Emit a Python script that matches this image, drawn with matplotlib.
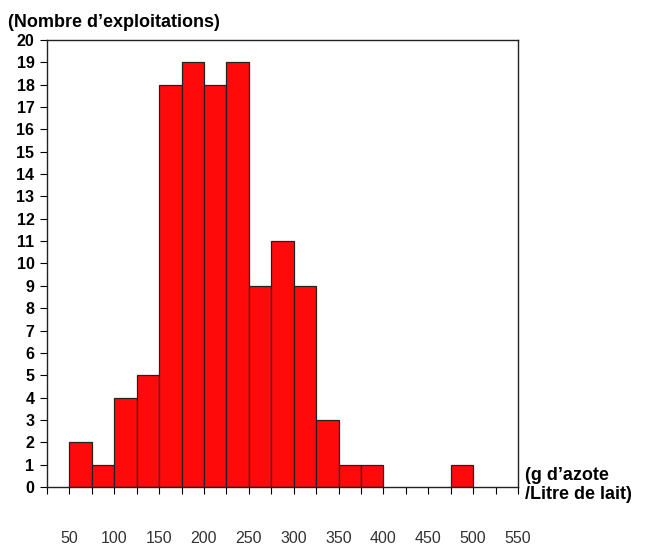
import numpy as np
import matplotlib
matplotlib.use("Agg")
import matplotlib.pyplot as plt

plt.rcParams['font.family'] = ['Liberation Sans', 'DejaVu Sans']

# histogram of g of nitrogen per litre of milk, bins of 25
bin_left = [50, 75, 100, 125, 150, 175, 200, 225, 250, 275, 300, 325, 350, 375, 400, 425, 450, 475]
counts = [2, 1, 4, 5, 18, 19, 18, 19, 9, 11, 9, 3, 1, 1, 0, 0, 0, 1]
x_ticks = list(range(25, 551, 25))
x_labels = [str(t) if t % 50 == 0 else "" for t in x_ticks]
y_ticks = list(range(0, 21))

fig = plt.figure(figsize=(6.56, 5.51), dpi=100)
ax = fig.add_axes([0.0716, 0.1162, 0.718, 0.8113])

left = [b for b, c in zip(bin_left, counts) if c > 0]
heights = [c for c in counts if c > 0]
ax.bar(left, heights, width=25, align='edge', color='#ff0a0a',
       edgecolor='#222222', linewidth=0.9)

ax.set_xlim(25, 550)
ax.set_ylim(0, 20)
ax.set_xticks(x_ticks)
ax.set_xticklabels(x_labels, fontsize=11.5, color='#333333')
ax.set_yticks(y_ticks)
ax.set_yticklabels([str(t) for t in y_ticks], fontsize=11.5, fontweight='bold')
ax.tick_params(axis='x', length=5, width=0.8, pad=27)
ax.tick_params(axis='y', length=5, width=0.8, pad=4)
for s in ax.spines.values():
    s.set_linewidth(1.0)
    s.set_color('#222222')

fig.text(0.012, 0.975, "(Nombre d\u2019exploitations)", fontsize=13,
         fontweight='bold', va='top', ha='left')
fig.text(0.80, 0.12, "(g d\u2019azote\n/Litre de lait)", fontsize=13,
         fontweight='bold', va='center', ha='left', linespacing=1.15)

fig.savefig("out.png", dpi=100)
